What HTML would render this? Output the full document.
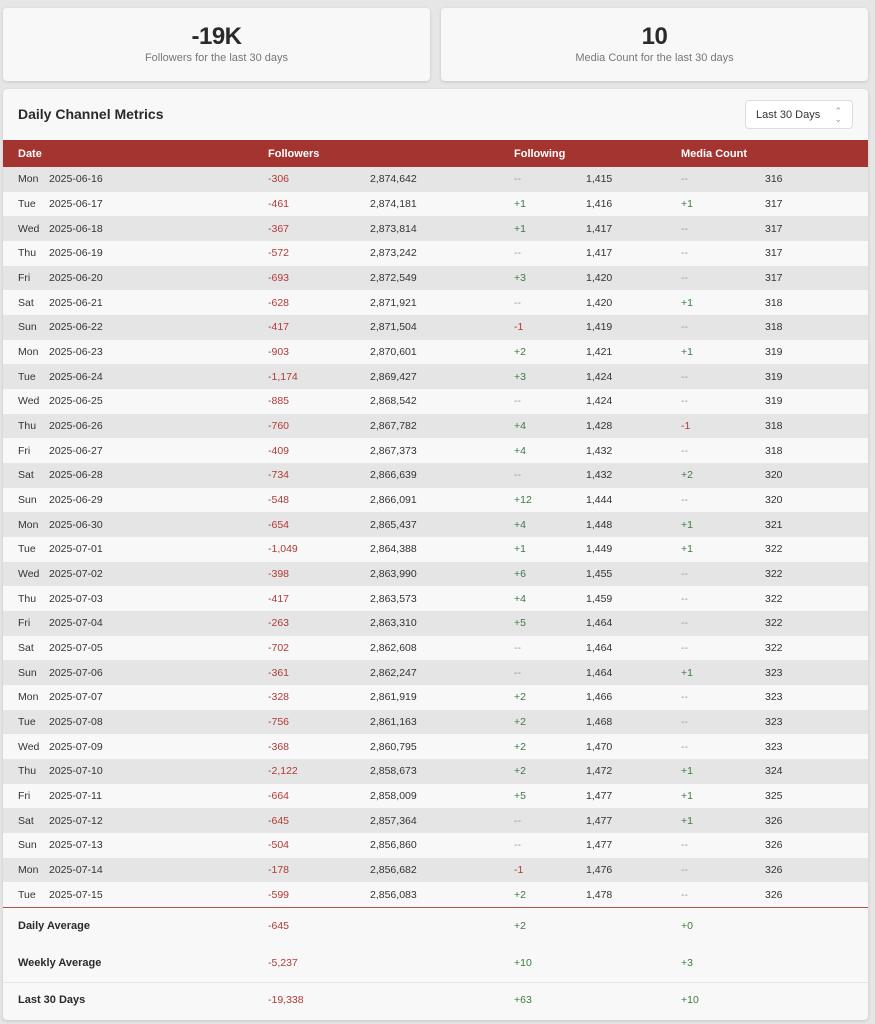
<!DOCTYPE html>
<html><head><meta charset="utf-8"><style>
*{box-sizing:border-box;margin:0;padding:0}
body{width:875px;height:1024px;background:#e6e6e6;font-family:"Liberation Sans",sans-serif;position:relative;overflow:hidden;color:#333}
.card{position:absolute;background:#f8f8f8;border-radius:4px;box-shadow:0 1px 3px rgba(0,0,0,.15)}
.big{position:absolute;left:0;right:0;top:15px;text-align:center;font-size:24px;font-weight:bold;color:#2a2a2a;letter-spacing:-0.5px}
.sub{position:absolute;left:0;right:0;top:44px;text-align:center;font-size:11px;color:#777}
.hdr{position:absolute;left:0;right:0;top:51px;height:28px;background:#a3342f;color:#fff;font-weight:bold;font-size:11px}
.hdr span,.r span,.f span{position:absolute;top:50%;transform:translateY(-50%);white-space:nowrap}
.r{position:absolute;left:0;right:0;height:24.67px;font-size:10.5px;color:#333}
.r:nth-child(odd){background:#e5e5e5}
.r:nth-child(even){background:#f8f8f8}
.n{color:#b03a36}.p{color:#3f7a3f}.d{color:#999}
.f{position:absolute;left:0;right:0;font-size:11px}
.f b{font-weight:bold;color:#2a2a2a}
.c1{left:15px}.c2{left:46px}.c3{left:265px}.c4{left:367px}.c5{left:511px}.c6{left:583px}.c7{left:678px}.c8{left:762px}
</style></head><body>
<div class="card" style="left:3px;top:8px;width:427px;height:73px"><div class="big">-19K</div><div class="sub">Followers for the last 30 days</div></div>
<div class="card" style="left:441px;top:8px;width:427px;height:73px"><div class="big">10</div><div class="sub">Media Count for the last 30 days</div></div>
<div class="card" style="left:3px;top:89px;width:865px;height:931px">
<div style="position:absolute;left:15px;top:17px;font-size:14px;font-weight:bold;color:#2a2a2a">Daily Channel Metrics</div>
<div style="position:absolute;left:742px;top:11px;width:108px;height:29px;background:#fff;border:1px solid #ddd;border-radius:4px;font-size:11px;color:#333;padding:8px 0 0 10px">Last 30 Days<span style="position:absolute;right:10px;top:6px;font-size:9px;color:#999;line-height:8px">&#8963;<br>&#8964;</span></div>
<div class="hdr"><span class="c1">Date</span><span class="c3">Followers</span><span class="c5">Following</span><span class="c7">Media Count</span></div>
<div style="position:absolute;left:0;right:0;top:78px">
<div class="r" style="top:0px"><span class="c1">Mon</span><span class="c2">2025-06-16</span><span class="c3 n">-306</span><span class="c4">2,874,642</span><span class="c5 d">--</span><span class="c6">1,415</span><span class="c7 d">--</span><span class="c8">316</span></div>
<div class="r" style="top:24.67px"><span class="c1">Tue</span><span class="c2">2025-06-17</span><span class="c3 n">-461</span><span class="c4">2,874,181</span><span class="c5 p">+1</span><span class="c6">1,416</span><span class="c7 p">+1</span><span class="c8">317</span></div>
<div class="r" style="top:49.33px"><span class="c1">Wed</span><span class="c2">2025-06-18</span><span class="c3 n">-367</span><span class="c4">2,873,814</span><span class="c5 p">+1</span><span class="c6">1,417</span><span class="c7 d">--</span><span class="c8">317</span></div>
<div class="r" style="top:74px"><span class="c1">Thu</span><span class="c2">2025-06-19</span><span class="c3 n">-572</span><span class="c4">2,873,242</span><span class="c5 d">--</span><span class="c6">1,417</span><span class="c7 d">--</span><span class="c8">317</span></div>
<div class="r" style="top:98.67px"><span class="c1">Fri</span><span class="c2">2025-06-20</span><span class="c3 n">-693</span><span class="c4">2,872,549</span><span class="c5 p">+3</span><span class="c6">1,420</span><span class="c7 d">--</span><span class="c8">317</span></div>
<div class="r" style="top:123.33px"><span class="c1">Sat</span><span class="c2">2025-06-21</span><span class="c3 n">-628</span><span class="c4">2,871,921</span><span class="c5 d">--</span><span class="c6">1,420</span><span class="c7 p">+1</span><span class="c8">318</span></div>
<div class="r" style="top:148px"><span class="c1">Sun</span><span class="c2">2025-06-22</span><span class="c3 n">-417</span><span class="c4">2,871,504</span><span class="c5 n">-1</span><span class="c6">1,419</span><span class="c7 d">--</span><span class="c8">318</span></div>
<div class="r" style="top:172.67px"><span class="c1">Mon</span><span class="c2">2025-06-23</span><span class="c3 n">-903</span><span class="c4">2,870,601</span><span class="c5 p">+2</span><span class="c6">1,421</span><span class="c7 p">+1</span><span class="c8">319</span></div>
<div class="r" style="top:197.33px"><span class="c1">Tue</span><span class="c2">2025-06-24</span><span class="c3 n">-1,174</span><span class="c4">2,869,427</span><span class="c5 p">+3</span><span class="c6">1,424</span><span class="c7 d">--</span><span class="c8">319</span></div>
<div class="r" style="top:222px"><span class="c1">Wed</span><span class="c2">2025-06-25</span><span class="c3 n">-885</span><span class="c4">2,868,542</span><span class="c5 d">--</span><span class="c6">1,424</span><span class="c7 d">--</span><span class="c8">319</span></div>
<div class="r" style="top:246.67px"><span class="c1">Thu</span><span class="c2">2025-06-26</span><span class="c3 n">-760</span><span class="c4">2,867,782</span><span class="c5 p">+4</span><span class="c6">1,428</span><span class="c7 n">-1</span><span class="c8">318</span></div>
<div class="r" style="top:271.33px"><span class="c1">Fri</span><span class="c2">2025-06-27</span><span class="c3 n">-409</span><span class="c4">2,867,373</span><span class="c5 p">+4</span><span class="c6">1,432</span><span class="c7 d">--</span><span class="c8">318</span></div>
<div class="r" style="top:296px"><span class="c1">Sat</span><span class="c2">2025-06-28</span><span class="c3 n">-734</span><span class="c4">2,866,639</span><span class="c5 d">--</span><span class="c6">1,432</span><span class="c7 p">+2</span><span class="c8">320</span></div>
<div class="r" style="top:320.67px"><span class="c1">Sun</span><span class="c2">2025-06-29</span><span class="c3 n">-548</span><span class="c4">2,866,091</span><span class="c5 p">+12</span><span class="c6">1,444</span><span class="c7 d">--</span><span class="c8">320</span></div>
<div class="r" style="top:345.33px"><span class="c1">Mon</span><span class="c2">2025-06-30</span><span class="c3 n">-654</span><span class="c4">2,865,437</span><span class="c5 p">+4</span><span class="c6">1,448</span><span class="c7 p">+1</span><span class="c8">321</span></div>
<div class="r" style="top:370px"><span class="c1">Tue</span><span class="c2">2025-07-01</span><span class="c3 n">-1,049</span><span class="c4">2,864,388</span><span class="c5 p">+1</span><span class="c6">1,449</span><span class="c7 p">+1</span><span class="c8">322</span></div>
<div class="r" style="top:394.67px"><span class="c1">Wed</span><span class="c2">2025-07-02</span><span class="c3 n">-398</span><span class="c4">2,863,990</span><span class="c5 p">+6</span><span class="c6">1,455</span><span class="c7 d">--</span><span class="c8">322</span></div>
<div class="r" style="top:419.33px"><span class="c1">Thu</span><span class="c2">2025-07-03</span><span class="c3 n">-417</span><span class="c4">2,863,573</span><span class="c5 p">+4</span><span class="c6">1,459</span><span class="c7 d">--</span><span class="c8">322</span></div>
<div class="r" style="top:444px"><span class="c1">Fri</span><span class="c2">2025-07-04</span><span class="c3 n">-263</span><span class="c4">2,863,310</span><span class="c5 p">+5</span><span class="c6">1,464</span><span class="c7 d">--</span><span class="c8">322</span></div>
<div class="r" style="top:468.67px"><span class="c1">Sat</span><span class="c2">2025-07-05</span><span class="c3 n">-702</span><span class="c4">2,862,608</span><span class="c5 d">--</span><span class="c6">1,464</span><span class="c7 d">--</span><span class="c8">322</span></div>
<div class="r" style="top:493.33px"><span class="c1">Sun</span><span class="c2">2025-07-06</span><span class="c3 n">-361</span><span class="c4">2,862,247</span><span class="c5 d">--</span><span class="c6">1,464</span><span class="c7 p">+1</span><span class="c8">323</span></div>
<div class="r" style="top:518px"><span class="c1">Mon</span><span class="c2">2025-07-07</span><span class="c3 n">-328</span><span class="c4">2,861,919</span><span class="c5 p">+2</span><span class="c6">1,466</span><span class="c7 d">--</span><span class="c8">323</span></div>
<div class="r" style="top:542.67px"><span class="c1">Tue</span><span class="c2">2025-07-08</span><span class="c3 n">-756</span><span class="c4">2,861,163</span><span class="c5 p">+2</span><span class="c6">1,468</span><span class="c7 d">--</span><span class="c8">323</span></div>
<div class="r" style="top:567.33px"><span class="c1">Wed</span><span class="c2">2025-07-09</span><span class="c3 n">-368</span><span class="c4">2,860,795</span><span class="c5 p">+2</span><span class="c6">1,470</span><span class="c7 d">--</span><span class="c8">323</span></div>
<div class="r" style="top:592px"><span class="c1">Thu</span><span class="c2">2025-07-10</span><span class="c3 n">-2,122</span><span class="c4">2,858,673</span><span class="c5 p">+2</span><span class="c6">1,472</span><span class="c7 p">+1</span><span class="c8">324</span></div>
<div class="r" style="top:616.67px"><span class="c1">Fri</span><span class="c2">2025-07-11</span><span class="c3 n">-664</span><span class="c4">2,858,009</span><span class="c5 p">+5</span><span class="c6">1,477</span><span class="c7 p">+1</span><span class="c8">325</span></div>
<div class="r" style="top:641.33px"><span class="c1">Sat</span><span class="c2">2025-07-12</span><span class="c3 n">-645</span><span class="c4">2,857,364</span><span class="c5 d">--</span><span class="c6">1,477</span><span class="c7 p">+1</span><span class="c8">326</span></div>
<div class="r" style="top:666px"><span class="c1">Sun</span><span class="c2">2025-07-13</span><span class="c3 n">-504</span><span class="c4">2,856,860</span><span class="c5 d">--</span><span class="c6">1,477</span><span class="c7 d">--</span><span class="c8">326</span></div>
<div class="r" style="top:690.67px"><span class="c1">Mon</span><span class="c2">2025-07-14</span><span class="c3 n">-178</span><span class="c4">2,856,682</span><span class="c5 n">-1</span><span class="c6">1,476</span><span class="c7 d">--</span><span class="c8">326</span></div>
<div class="r" style="top:715.33px"><span class="c1">Tue</span><span class="c2">2025-07-15</span><span class="c3 n">-599</span><span class="c4">2,856,083</span><span class="c5 p">+2</span><span class="c6">1,478</span><span class="c7 d">--</span><span class="c8">326</span></div>
</div>
<div style="position:absolute;left:0;right:0;top:818px;height:1px;background:#b5524d"></div>
<div class="f" style="top:824px;height:26px"><span class="c1"><b>Daily Average</b></span><span class="c3 n" style="font-size:10.5px">-645</span><span class="c5 p" style="font-size:10.5px">+2</span><span class="c7 p" style="font-size:10.5px">+0</span></div>
<div class="f" style="top:861px;height:26px"><span class="c1"><b>Weekly Average</b></span><span class="c3 n" style="font-size:10.5px">-5,237</span><span class="c5 p" style="font-size:10.5px">+10</span><span class="c7 p" style="font-size:10.5px">+3</span></div>
<div style="position:absolute;left:0;right:0;top:893px;height:1px;background:#e4e4e4"></div>
<div class="f" style="top:898px;height:26px"><span class="c1"><b>Last 30 Days</b></span><span class="c3 n" style="font-size:10.5px">-19,338</span><span class="c5 p" style="font-size:10.5px">+63</span><span class="c7 p" style="font-size:10.5px">+10</span></div>
</div>
</body></html>
